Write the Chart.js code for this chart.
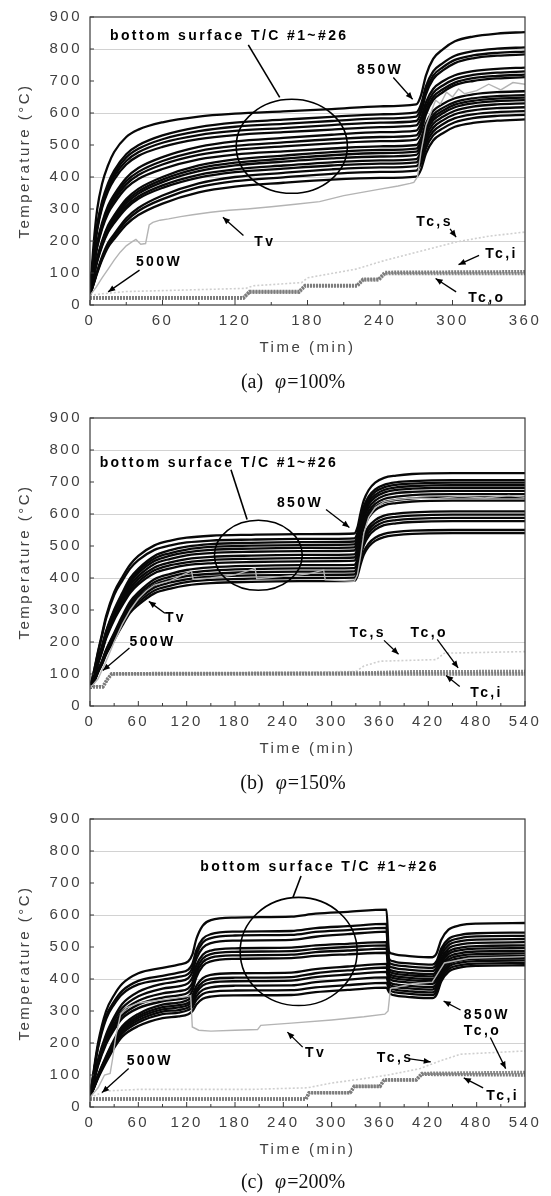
<!DOCTYPE html>
<html><head><meta charset="utf-8">
<script src="https://cdn.jsdelivr.net/npm/chart.js@4.4.1/dist/chart.umd.min.js"></script>
<style>
html,body{margin:0;padding:0;background:#fff;overflow:hidden;}
.panel{position:relative;width:551px;}
canvas{display:block;}
</style></head><body>
<div class="panel"><canvas id="ca" width="551" height="401"></canvas></div>
<div class="panel"><canvas id="cb" width="551" height="401"></canvas></div>
<div class="panel"><canvas id="cc" width="551" height="394"></canvas></div>
<script>
// ================= shared tick labels =================
const yTicks = [0,100,200,300,400,500,600,700,800,900];

// ================= panel (a)  phi = 100% =================
const xTicksA = [0,60,120,180,240,300,360];
const timesA = [0,3,6,10,15,20,30,40,60,90,120,160,200,240,270,274,278,284,292,302,317,337,360];
const bottomTcA = [
 [30,190,300,379,437,478,525,548,571,589,598,605,612,621,627,656,717,769,799,824,839,848,853],
 [30,159,251,324,381,420,471,499,530,556,570,579,588,596,602,628,683,730,756,779,793,801,805],
 [30,156,246,317,373,411,461,488,518,543,557,566,575,583,589,615,670,717,743,766,780,788,792],
 [30,153,241,310,365,402,450,477,507,531,544,553,562,570,575,602,658,706,733,756,771,779,783],
 [30,150,235,303,356,392,439,466,494,518,531,540,548,556,561,585,633,675,699,718,731,738,742],
 [30,123,195,257,311,345,397,428,462,494,511,522,532,540,545,569,619,662,686,706,719,726,730],
 [30,121,191,251,303,336,387,416,450,481,497,508,518,525,530,555,606,650,674,695,709,716,720],
 [30,118,186,245,296,328,377,406,439,469,485,496,505,512,517,542,595,640,665,687,700,708,712],
 [30,115,181,238,287,318,366,394,425,455,470,480,489,496,500,522,567,606,628,646,658,665,668],
 [30,94,147,200,249,280,331,363,400,436,455,467,478,485,489,511,556,594,616,634,646,653,656],
 [30,92,144,196,244,274,324,355,392,427,445,457,468,475,479,501,547,585,607,626,638,645,648],
 [30,91,142,193,239,268,317,348,384,418,436,448,458,464,469,491,537,577,599,618,630,637,640],
 [30,89,139,188,233,262,309,339,374,407,424,436,446,452,456,479,526,566,588,607,620,627,630],
 [30,88,136,184,228,256,302,332,366,398,415,426,436,442,446,468,515,554,577,596,608,615,618],
 [30,68,106,151,194,221,271,303,342,380,400,413,424,430,434,456,503,542,565,584,596,603,606],
 [30,67,104,146,188,215,262,294,331,368,387,399,410,416,420,443,490,530,552,571,584,591,594],
 [30,65,100,141,181,206,251,281,317,352,370,382,392,397,401,424,473,514,537,557,569,576,580]
];
const tvTimesA = [0,5,10,15,20,25,30,35,38,42,46,49,52,58,65,75,85,100,115,130,150,170,190,210,225,240,255,265,268,271,274,278,282,286,290,295,300,305,310,320,330,340,350,360];
const tvA = [30,55,85,112,140,165,185,198,205,190,192,250,258,265,269,276,282,290,296,300,307,315,323,342,352,362,372,380,383,400,480,560,600,640,628,665,650,675,660,670,690,672,695,690];
const tcsTimesA = [0,10,30,60,90,129,135,175,180,220,240,270,303,330,360];
const tcsA = [30,35,42,45,48,52,60,70,85,112,135,165,197,215,228];
const tciTimesA = [0,127,132,173,178,221,226,239,244,360];
const tciA = [23,23,42,42,61,61,81,81,102,104];
const tcoTimesA = [0,127,132,173,178,221,226,239,244,360];
const tcoA = [21,21,40,40,59,59,78,78,98,98];

// ================= panel (b)  phi = 150% =================
const xTicksB = [0,60,120,180,240,300,360,420,480,540];
const timesB = [0,5,10,15,20,30,40,50,60,80,100,120,150,200,260,328,332,336,340,346,354,365,380,400,450,540];
const bottomTcB = [
 [55,110,171,226,281,356,402,442,469,502,517,526,532,535,537,539,558,605,643,675,698,713,720,725,728,728],
 [55,109,167,220,274,347,391,430,456,488,502,511,517,520,522,524,542,588,624,655,677,691,699,703,706,706],
 [55,95,144,188,234,301,353,400,429,469,487,498,506,510,512,514,532,578,615,646,669,683,691,695,698,698],
 [55,94,142,185,231,296,348,393,422,461,478,489,497,501,503,505,524,570,607,638,660,675,683,687,690,690],
 [55,94,141,182,227,291,342,386,415,453,470,480,488,492,494,496,515,561,598,630,652,667,675,679,682,682],
 [55,93,139,179,223,286,335,378,406,444,460,471,478,482,484,486,505,551,588,620,642,657,665,669,672,672],
 [55,92,136,176,218,279,327,369,397,433,449,459,466,470,472,474,493,540,577,609,632,647,654,659,662,662],
 [55,91,134,173,215,274,321,362,388,424,440,449,456,460,462,464,483,530,567,599,622,637,644,649,652,652],
 [55,90,132,170,211,269,314,354,380,415,430,440,446,450,452,454,473,520,557,589,612,627,634,639,642,642],
 [55,78,113,142,176,228,281,327,355,396,413,425,433,438,440,441,458,499,533,561,581,595,601,605,608,608],
 [55,78,111,139,173,224,275,320,348,387,404,415,423,428,430,431,448,489,523,551,571,585,591,595,598,598],
 [55,77,110,137,170,219,269,313,340,378,395,406,413,418,420,421,438,479,513,541,561,575,581,585,588,588],
 [55,76,108,135,167,215,263,306,332,370,386,396,404,408,410,411,428,469,503,531,551,565,571,575,578,578],
 [55,76,107,133,164,210,257,299,324,361,376,387,394,398,400,401,416,453,483,508,526,538,544,548,550,550],
 [55,75,105,130,161,206,251,292,316,352,367,377,384,388,390,391,406,443,473,498,516,528,534,538,540,540]
];
const tvTimesB = [0,10,20,30,40,50,60,70,80,100,126,128,150,180,205,207,240,270,290,292,310,328,332,336,340,346,354,365,380,400,430,460,490,520,540];
const tvB = [55,85,140,200,255,300,335,360,378,392,422,396,400,410,430,398,405,412,425,394,392,390,410,470,540,590,620,638,645,650,648,655,650,658,652];
const tcsTimesB = [0,16,27,200,330,340,360,430,440,540];
const tcsB = [62,62,100,104,108,125,140,145,165,170];
const tciTimesB = [0,16,22,27,540];
const tciB = [60,60,85,100,100];
const tcoTimesB = [0,16,22,27,330,400,540];
const tcoB = [60,60,85,101,103,107,108];

// ================= panel (c)  phi = 200% =================
const xTicksC = [0,60,120,180,240,300,360,420,480,540];
const timesC = [0,5,10,20,30,40,60,90,110,122,127,132,140,150,180,250,280,320,368,371,374,380,400,425,430,436,445,460,480,540];
const bottomTcC = [
 [30,120,200,300,350,385,418,435,445,455,476,525,567,584,592,595,604,610,617,488,480,476,471,468,479,522,554,568,573,575],
 [30,114,190,283,330,363,394,410,420,429,447,490,526,540,548,550,559,565,572,465,457,453,448,445,455,495,525,538,543,545],
 [30,112,185,275,321,353,383,398,407,416,434,477,514,528,536,538,547,553,560,455,447,443,438,435,445,485,515,528,533,535],
 [30,91,148,227,281,322,360,385,393,403,421,463,498,512,520,522,532,540,548,445,437,433,428,425,435,475,505,518,523,525],
 [30,88,143,219,271,309,346,370,377,387,404,443,476,489,496,498,505,510,515,435,427,423,418,415,425,465,495,508,513,515],
 [30,86,138,211,260,297,332,355,362,371,388,429,464,478,485,487,494,500,505,428,420,416,411,408,418,457,486,498,503,505],
 [30,83,133,203,251,286,320,342,349,358,376,417,452,467,474,476,484,489,495,420,412,408,403,400,410,449,478,490,495,497],
 [30,81,129,197,242,277,309,330,337,345,363,405,441,455,463,465,472,477,482,413,405,401,396,393,403,441,469,481,486,488],
 [30,65,100,159,211,252,291,320,326,335,348,378,403,413,418,420,431,439,447,405,397,393,388,385,395,433,461,473,478,480],
 [30,64,98,155,206,246,284,312,318,326,338,366,390,400,404,406,418,427,436,395,387,383,378,375,385,424,453,465,470,472],
 [30,63,97,152,202,241,278,305,311,319,330,357,380,389,393,395,406,414,422,387,379,375,370,367,377,416,445,458,463,465],
 [30,62,95,149,198,235,271,298,303,311,321,346,366,374,379,380,390,398,405,378,370,366,361,358,368,408,438,451,456,458],
 [30,61,93,145,193,229,264,290,295,303,312,334,353,360,364,365,374,381,388,370,362,358,353,350,360,400,430,443,448,450],
 [30,60,90,140,185,220,253,278,283,290,299,320,338,345,349,350,359,366,373,360,352,348,343,340,350,392,422,436,441,443]
];
const tvTimesC = [0,10,18,25,28,32,38,45,60,90,120,125,127,135,150,180,208,212,250,300,340,366,370,373,400,425,440,470,540];
const tvC = [30,60,100,105,150,220,290,310,325,335,345,348,250,240,237,240,242,255,262,272,282,290,300,370,385,390,450,465,470];
const tcsTimesC = [0,20,60,120,200,270,300,330,370,410,430,460,540];
const tcsC = [30,50,55,55,55,60,75,85,100,120,140,165,175];
const tciTimesC = [0,268,272,323,328,360,365,405,412,540];
const tciC = [25,25,44,44,64,64,84,84,102,100];
const tcoTimesC = [0,268,272,323,328,360,365,405,412,540];
const tcoC = [25,25,45,45,65,65,85,85,105,108];

// ================= annotations (data units) =================
const annA = {
  texts: [['bottom surface T/C #1~#26',16.5,841],['850W',221,733],['500W',38,135],['Tv',136,197],['Tc,s',270,259],['Tc,i',327,160],['Tc,o',313,21]],
  lines: [[131,813,157,649]],
  arrows: [[251,711,267,643],[41,109,15,41],[127,217,110,274],[298,238,303,212],[322,155,305,126],[303,41,286,83]],
  ellipse: [167,496,46,147],
  caption: ['(a)','=100%']
};
const annB = {
  texts: [['bottom surface T/C #1~#26',12,758],['850W',232,635],['Tv',93,275],['500W',49,198],['Tc,s',322,229],['Tc,o',398,229],['Tc,i',472,39]],
  lines: [[175,738,195,583]],
  arrows: [[293,614,322,558],[93,290,73,327],[49,181,16,111],[365,205,383,162],[431,208,457,119],[459,61,442,95]],
  ellipse: [209,471,54.5,109.5],
  caption: ['(b)','=150%']
};
const annC = {
  texts: [['bottom surface T/C #1~#26',137,751],['850W',464,288],['Tc,o',464,236],['Tv',267,169],['Tc,s',356,153],['Tc,i',492,34],['500W',45.5,143]],
  lines: [[262,722,252,655]],
  arrows: [[460,303,439,331],[497,217,516,120],[264,187,245,234],[395,151,423,141],[488,60,464,91],[48,120,15,45]],
  ellipse: [259,486,72.6,169],
  caption: ['(c)','=200%']
};

// ================= drawing =================
const SANS = "'Liberation Sans', Arial, sans-serif";
const SERIF = "'Liberation Serif', 'Times New Roman', serif";
Chart.defaults.font.family = SANS;

function series(ts, vs){ return ts.map((t,i)=>({x:t, y:vs[i]})); }

const spacingPlugin = {
  id:'spacing',
  beforeUpdate(chart){ chart.ctx.letterSpacing = '2.5px'; },
  beforeDraw(chart){ chart.ctx.letterSpacing = '2.5px'; }
};

function arrowHead(ctx, x1,y1,x2,y2){
  const ang = Math.atan2(y2-y1, x2-x1), L = 7, W = 3;
  ctx.beginPath();
  ctx.moveTo(x2,y2);
  ctx.lineTo(x2 - L*Math.cos(ang) + W*Math.sin(ang), y2 - L*Math.sin(ang) - W*Math.cos(ang));
  ctx.lineTo(x2 - L*Math.cos(ang) - W*Math.sin(ang), y2 - L*Math.sin(ang) + W*Math.cos(ang));
  ctx.closePath(); ctx.fill();
}

const framePlugin = {
  id:'frame',
  afterDraw(chart, args, opts){
    const {ctx, chartArea:a, scales:{x,y}} = chart;
    const ann = opts.ann, xt = opts.xt;
    ctx.save();
    ctx.letterSpacing = '0px';
    // frame
    ctx.strokeStyle = '#3a3a3a'; ctx.lineWidth = 1.2;
    ctx.strokeRect(a.left, a.top, a.right-a.left, a.bottom-a.top);
    // inner tick marks
    ctx.lineWidth = 1;
    yTicks.forEach(v=>{ const py = y.getPixelForValue(v); ctx.beginPath(); ctx.moveTo(a.left,py); ctx.lineTo(a.left+4,py); ctx.stroke(); });
    xt.forEach((v,i)=>{
      const px = x.getPixelForValue(v); ctx.beginPath(); ctx.moveTo(px,a.bottom); ctx.lineTo(px,a.bottom-5); ctx.stroke();
      if(i < xt.length-1){ const pm = x.getPixelForValue((v+xt[i+1])/2); ctx.beginPath(); ctx.moveTo(pm,a.bottom); ctx.lineTo(pm,a.bottom-3); ctx.stroke(); }
    });
    // annotations
    ctx.strokeStyle = '#000'; ctx.fillStyle = '#000'; ctx.lineWidth = 1.6;
    const e = ann.ellipse;
    const cx = x.getPixelForValue(e[0]), cy = y.getPixelForValue(e[1]);
    const rx = x.getPixelForValue(e[0]+e[2]) - cx, ry = cy - y.getPixelForValue(e[1]+e[3]);
    ctx.beginPath(); ctx.ellipse(cx, cy, rx, ry, 0, 0, Math.PI*2); ctx.stroke();
    ann.lines.forEach(l=>{
      ctx.beginPath(); ctx.moveTo(x.getPixelForValue(l[0]), y.getPixelForValue(l[1]));
      ctx.lineTo(x.getPixelForValue(l[2]), y.getPixelForValue(l[3])); ctx.stroke();
    });
    ctx.lineWidth = 1.3;
    ann.arrows.forEach(l=>{
      const x1=x.getPixelForValue(l[0]), y1=y.getPixelForValue(l[1]), x2=x.getPixelForValue(l[2]), y2=y.getPixelForValue(l[3]);
      ctx.beginPath(); ctx.moveTo(x1,y1); ctx.lineTo(x2,y2); ctx.stroke();
      arrowHead(ctx,x1,y1,x2,y2);
    });
    ctx.letterSpacing = '2.4px';
    ctx.font = 'bold 14px ' + SANS; ctx.textAlign = 'left'; ctx.textBaseline = 'middle';
    ann.texts.forEach(t=>{ ctx.fillText(t[0], x.getPixelForValue(t[1]), y.getPixelForValue(t[2])); });
    // caption
    ctx.letterSpacing = '0px';
    ctx.fillStyle = '#111'; ctx.textBaseline = 'middle';
    const fN = '20px ' + SERIF, fI = 'italic 20px ' + SERIF;
    ctx.font = fN; const w1 = ctx.measureText(ann.caption[0]).width;
    const w3 = ctx.measureText(ann.caption[1]).width;
    ctx.font = fI; const w2 = ctx.measureText('\u03c6').width;
    const gap = 12, total = w1+gap+w2+1+w3;
    let px = opts.capX - total/2, py = opts.capY;
    ctx.font = fN; ctx.fillText(ann.caption[0], px, py); px += w1+gap;
    ctx.font = fI; ctx.fillText('\u03c6', px, py); px += w2+1;
    ctx.font = fN; ctx.fillText(ann.caption[1], px, py);
    ctx.restore();
  }
};

function buildPanel(id, p){
  const curveSets = p.curves.map((c,i)=>({
    label:'T/C #'+(i+1), data: series(p.times, c), borderColor:'#080808', borderWidth:2.3,
    pointRadius:0, cubicInterpolationMode:'monotone', fill:false
  }));
  const datasets = [
    {label:'Tv', data: series(p.tvT, p.tv), borderColor:'#b4b4b4', borderWidth:1.4, pointRadius:0, tension:0},
    {label:'Tc,i', data: series(p.tciT, p.tci), borderColor:'#7d7d7d', borderWidth:3.4, borderDash:[2,1], pointRadius:0, tension:0},
    {label:'Tc,o', data: series(p.tcoT, p.tco), borderColor:'#8a8a8a', borderWidth:3.4, borderDash:[2,1], pointRadius:0, tension:0},
    {label:'Tc,s', data: series(p.tcsT, p.tcs), borderColor:'#cfcfcf', borderWidth:1.6, borderDash:[2,2], pointRadius:0, tension:0}
  ].concat(curveSets);
  return new Chart(document.getElementById(id), {
    type:'line',
    data:{datasets},
    plugins:[spacingPlugin, framePlugin],
    options:{
      responsive:false, animation:false, devicePixelRatio:1,
      layout:{padding:{top:14, right:26, left:0, bottom:0}},
      plugins:{legend:{display:false}, tooltip:{enabled:false}, frame:{ann:p.ann, xt:p.xt, capX:293, capY:p.capY}},
      scales:{
        x:{type:'linear', min:0, max:p.xt[p.xt.length-1],
           afterBuildTicks:s=>{ s.ticks = p.xt.map(v=>({value:v})); },
           afterFit:s=>{ s.height = p.xH; },
           grid:{display:false, drawTicks:false}, border:{display:false},
           ticks:{color:'#404040', font:{size:15}, padding:7, maxRotation:0, autoSkip:false},
           title:{display:true, text:'Time (min)', color:'#404040', font:{size:15}, padding:{top:0, bottom:p.xTitlePad}}
        },
        y:{type:'linear', min:0, max:900,
           afterBuildTicks:s=>{ s.ticks = yTicks.map(v=>({value:v})); },
           afterFit:s=>{ s.width = 90; },
           grid:{drawTicks:false, color:c=>(c.tick && c.tick.value%200===0 && c.tick.value>0 && c.tick.value<900) ? '#d2d2d2' : 'rgba(0,0,0,0)', lineWidth:1},
           border:{display:false},
           ticks:{color:'#404040', font:{size:15}, padding:8},
           title:{display:true, text:'Temperature (\u00b0C)', color:'#404040', font:{size:15}, padding:{top:16, bottom:0}}
        }
      }
    }
  });
}

buildPanel('ca', {times:timesA, curves:bottomTcA, tvT:tvTimesA, tv:tvA, tcsT:tcsTimesA, tcs:tcsA, tciT:tciTimesA, tci:tciA, tcoT:tcoTimesA, tco:tcoA, xt:xTicksA, ann:annA, xH:96, xTitlePad:44, capY:383});
buildPanel('cb', {times:timesB, curves:bottomTcB, tvT:tvTimesB, tv:tvB, tcsT:tcsTimesB, tcs:tcsB, tciT:tciTimesB, tci:tciB, tcoT:tcoTimesB, tco:tcoB, xt:xTicksB, ann:annB, xH:96, xTitlePad:44, capY:383});
buildPanel('cc', {times:timesC, curves:bottomTcC, tvT:tvTimesC, tv:tvC, tcsT:tcsTimesC, tcs:tcsC, tciT:tciTimesC, tci:tciC, tcoT:tcoTimesC, tco:tcoC, xt:xTicksC, ann:annC, xH:89, xTitlePad:37, capY:381});
</script>
</body></html>
